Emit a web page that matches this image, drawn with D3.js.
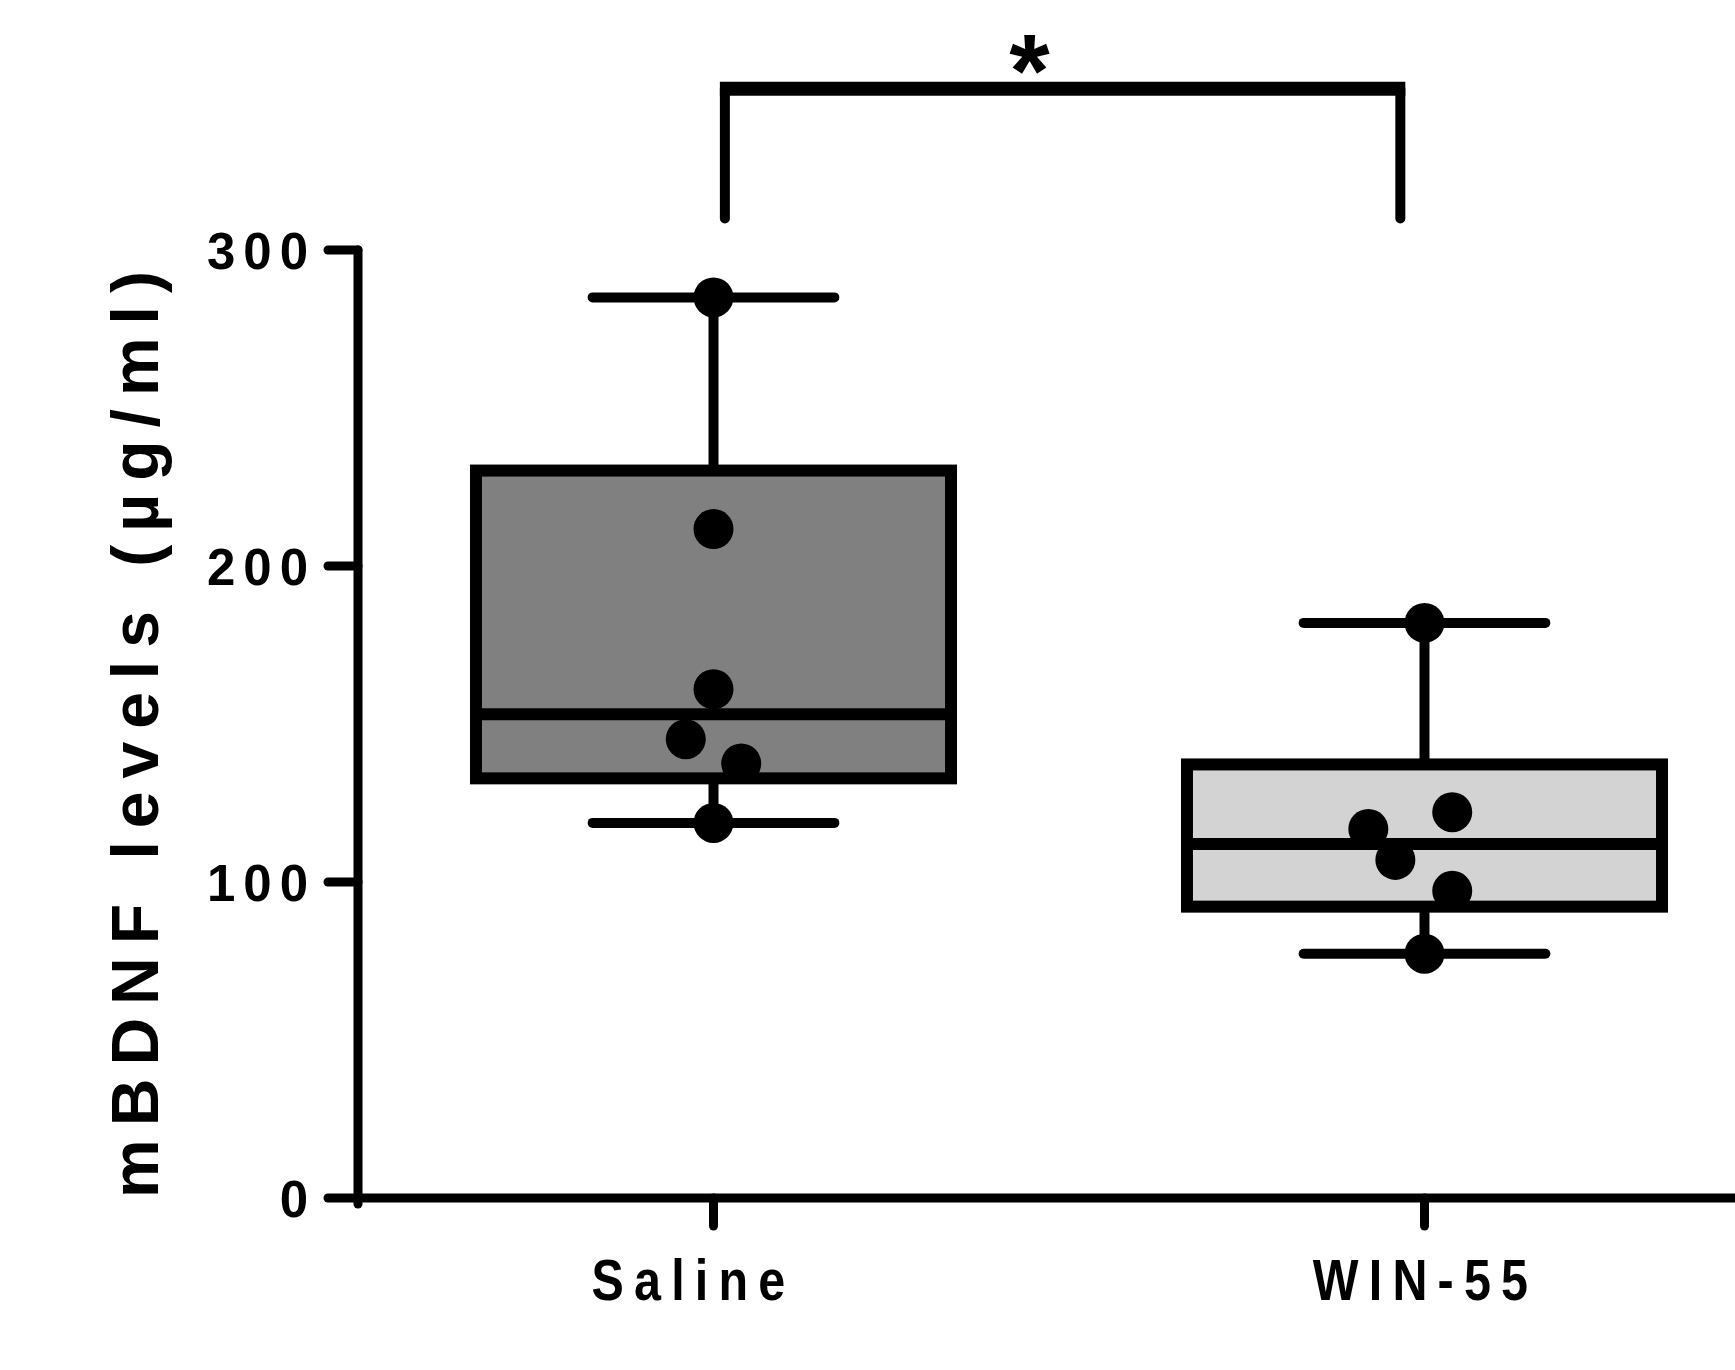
<!DOCTYPE html>
<html>
<head>
<meta charset="utf-8">
<script src="https://cdn.jsdelivr.net/npm/d3@7"></script>
<style>
  html, body { margin: 0; padding: 0; background: #fff; }
  svg { display: block; }
</style>
</head>
<body>
<svg id="chart" width="1735" height="1370"></svg>
<script>
// ---- data ----
const categories = ["Saline", "WIN-55"];
const fills = ["#808080", "#d3d3d3"];
const whiskerLow  = [118.7, 77.3];
const q1          = [132.8, 92.2];
const medians     = [153.1, 112.0];
const q3          = [230.2, 137.2];
const whiskerHigh = [285.0, 182.0];
const salinePoints = [285.0, 211.7, 161.0, 145.2, 137.5, 118.7];
const salineJitter = [0, 0, 0, -0.039, 0.039, 0];
const winPoints    = [182.0, 122.1, 116.8, 107.0, 97.2, 77.3];
const winJitter    = [0, 0.039, -0.079, -0.041, 0.039, 0];
const yTicks = [0, 100, 200, 300];
const yLabel = "mBDNF levels (\u00b5g/ml)";
const sigLabel = "*";
const bracketLow = 310, bracketHigh = 351;

// ---- scales ----
const svg = d3.select("#chart");
const y = d3.scaleLinear().domain([0, 300]).range([1198, 250]);
const x = d3.scalePoint().domain(categories).range([358, 1780]).padding(0.5);
const step = x.step();
const boxW = 0.685 * step, capW = 0.34 * step;

const normal = "'Liberation Sans', Arial, sans-serif";

// ---- axes ----
const yAxis = svg.append("g").attr("transform", "translate(358,0)");
yAxis.append("line").attr("x1", 0).attr("x2", 0).attr("y1", y(300)).attr("y2", y(0) + 6)
  .attr("stroke", "#000").attr("stroke-width", 9).attr("stroke-linecap", "round");
yAxis.selectAll(".tick").data(yTicks).join("line")
  .attr("x1", -30).attr("x2", 0).attr("y1", d => y(d)).attr("y2", d => y(d))
  .attr("stroke", "#000").attr("stroke-width", 9).attr("stroke-linecap", "round");
yAxis.selectAll(".lbl").data(yTicks).join("text")
  .attr("x", -42).attr("y", d => y(d) + 19)
  .attr("text-anchor", "end")
  .attr("font-family", normal).attr("font-weight", "bold")
  .attr("font-size", 51).attr("letter-spacing", 8)
  .text(d => d);

const xAxis = svg.append("g");
xAxis.append("line").attr("x1", 358).attr("x2", 1780).attr("y1", y(0)).attr("y2", y(0))
  .attr("stroke", "#000").attr("stroke-width", 9);
xAxis.selectAll(".tick").data(categories).join("line")
  .attr("x1", d => x(d)).attr("x2", d => x(d)).attr("y1", y(0)).attr("y2", y(0) + 28)
  .attr("stroke", "#000").attr("stroke-width", 9).attr("stroke-linecap", "round");
const labelDx = [-20, 1];
xAxis.selectAll(".lbl").data(categories).join("text")
  .attr("transform", (d, i) => `translate(${x(d) + labelDx[i]},1300) scale(0.85,1)`)
  .attr("text-anchor", "middle")
  .attr("font-family", normal).attr("font-weight", "bold")
  .attr("font-size", 57).attr("letter-spacing", 12)
  .text(d => d);

// y label
svg.append("text")
  .attr("transform", `translate(158,${(y(0) + y(300)) / 2 + 4}) rotate(-90)`)
  .attr("text-anchor", "middle")
  .attr("font-family", normal).attr("font-weight", "bold")
  .attr("font-size", 66).attr("letter-spacing", 13)
  .text(yLabel);

// ---- boxes ----
const boxes = categories.map((c, i) => ({
  c, i, lo: whiskerLow[i], q1: q1[i], med: medians[i], q3: q3[i], hi: whiskerHigh[i], fill: fills[i]
}));
const g = svg.append("g");
boxes.forEach(b => {
  const cx = x(b.c);
  g.append("line").attr("x1", cx).attr("x2", cx).attr("y1", y(b.hi)).attr("y2", y(b.q3))
    .attr("stroke", "#000").attr("stroke-width", 10);
  g.append("line").attr("x1", cx).attr("x2", cx).attr("y1", y(b.q1)).attr("y2", y(b.lo))
    .attr("stroke", "#000").attr("stroke-width", 10);
  [b.hi, b.lo].forEach(v => {
    g.append("line").attr("x1", cx - capW / 2).attr("x2", cx + capW / 2)
      .attr("y1", y(v)).attr("y2", y(v))
      .attr("stroke", "#000").attr("stroke-width", 10).attr("stroke-linecap", "round");
  });
  g.append("rect").attr("x", cx - boxW / 2 + 6).attr("width", boxW - 12)
    .attr("y", y(b.q3)).attr("height", y(b.q1) - y(b.q3))
    .attr("fill", b.fill).attr("stroke", "#000").attr("stroke-width", 12);
  g.append("line").attr("x1", cx - boxW / 2 + 6).attr("x2", cx + boxW / 2 - 6)
    .attr("y1", y(b.med)).attr("y2", y(b.med))
    .attr("stroke", "#000").attr("stroke-width", 12);
});

// ---- points ----
const pts = [];
salinePoints.forEach((v, k) => pts.push({ c: categories[0], v, j: salineJitter[k] }));
winPoints.forEach((v, k) => pts.push({ c: categories[1], v, j: winJitter[k] }));
g.selectAll("circle").data(pts).join("circle")
  .attr("cx", d => x(d.c) + d.j * step)
  .attr("cy", d => y(d.v))
  .attr("r", 20)
  .attr("fill", "#000");

// ---- significance bracket ----
const bx1 = x(categories[0]) + 0.016 * step;
const bx2 = x(categories[1]) - 0.034 * step;
svg.append("line").attr("x1", bx1 - 5).attr("x2", bx2 + 5)
  .attr("y1", y(bracketHigh)).attr("y2", y(bracketHigh))
  .attr("stroke", "#000").attr("stroke-width", 14);
[bx1, bx2].forEach(bx => {
  svg.append("line").attr("x1", bx).attr("x2", bx)
    .attr("y1", y(bracketHigh)).attr("y2", y(bracketLow))
    .attr("stroke", "#000").attr("stroke-width", 10).attr("stroke-linecap", "round");
});
svg.append("text")
  .attr("x", (bx1 + bx2) / 2 - 33).attr("y", 107)
  .attr("text-anchor", "middle")
  .attr("font-family", normal).attr("font-weight", "bold")
  .attr("font-size", 104)
  .text(sigLabel);
</script>
</body>
</html>
